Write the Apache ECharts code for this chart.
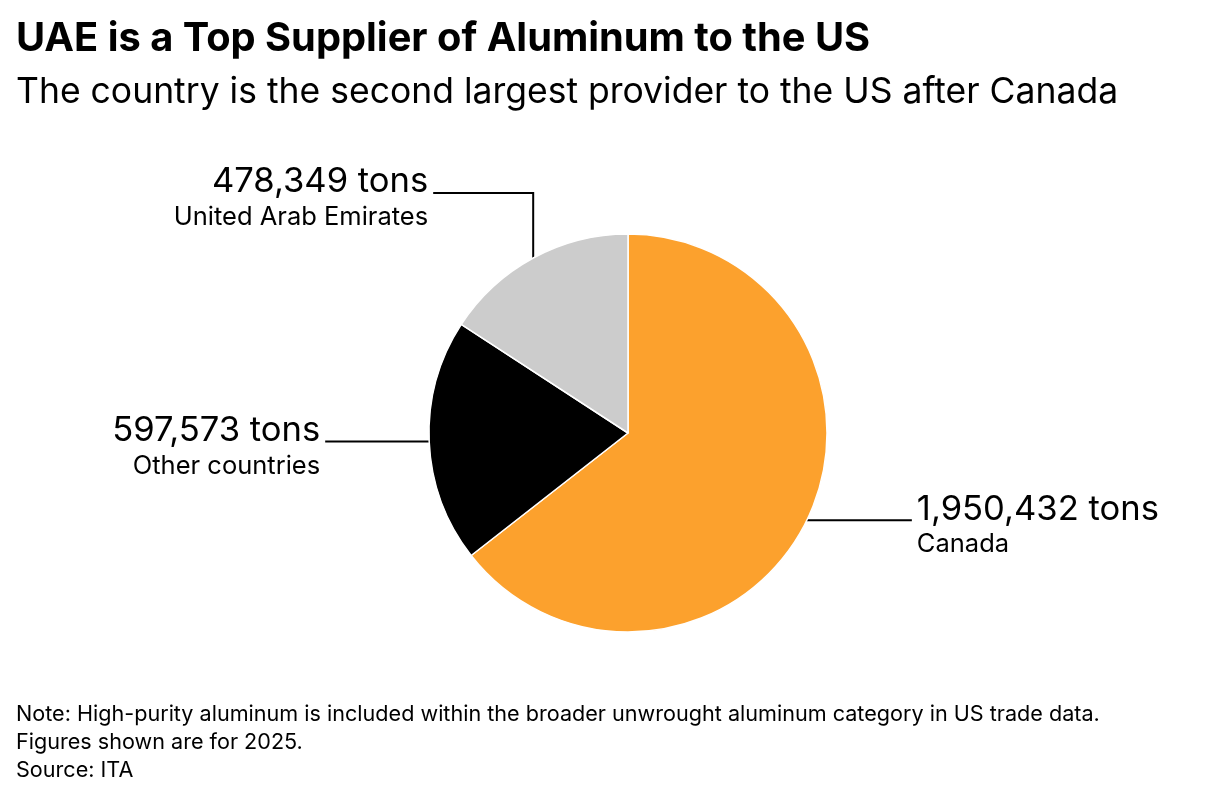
<!DOCTYPE html>
<html>
<head>
<meta charset="utf-8">
<script src="https://cdn.jsdelivr.net/npm/echarts@6/dist/echarts.min.js"></script>
<style>
  html, body { margin: 0; padding: 0; background: #fff; }
  #chart { width: 1218px; height: 804px; }
</style>
</head>
<body>
<div id="chart"></div>
<script>
// 数据
var countries = ['Canada', 'Other countries', 'United Arab Emirates'];
var tons = [1950432, 597573, 478349];
var colors = ['#FCA12D', '#000000', '#CCCCCC'];

var titleText = 'UAE is a Top Supplier of Aluminum to the US';
var subText = 'The country is the second largest provider to the US after Canada';
var noteLines = [
    'Note: High-purity aluminum is included within the broader unwrought aluminum category in US trade data.',
    'Figures shown are for 2025.',
    'Source: ITA'
];

var FONT = 'Inter, "Liberation Sans", Arial, sans-serif';

function fmt(v) {
    return v.toLocaleString('en-US') + ' tons';
}

var pieData = [];
for (var i = 0; i < countries.length; i++) {
    pieData.push({ name: countries[i], value: tons[i], itemStyle: { color: colors[i] } });
}

// 标签引线: 从扇区中点出发, 水平/折线到标签
function labelLayout(params) {
    var p0 = params.labelLinePoints[0].slice();
    var i = params.dataIndex;
    var lineY, end, pts, x, align;
    if (i === 0) {
        end = [p0[0] + 105, p0[1]];
        pts = [p0, end];
        x = end[0] + 5; align = 'left'; lineY = p0[1];
    } else if (i === 1) {
        end = [p0[0] - 104, p0[1]];
        pts = [p0, end];
        x = end[0] - 5; align = 'right'; lineY = p0[1];
    } else {
        var mid = [p0[0], p0[1] - 65];
        end = [mid[0] - 100, mid[1]];
        pts = [p0, mid, end];
        x = end[0] - 5; align = 'right'; lineY = mid[1];
    }
    return {
        x: x,
        y: lineY - 29,
        align: align,
        verticalAlign: 'top',
        labelLinePoints: pts
    };
}

var option = {
    backgroundColor: '#fff',
    animation: false,
    title: [
        {
            text: titleText,
            left: 11, top: 12,
            textStyle: { fontFamily: FONT, fontSize: 39.8, fontWeight: 'bold', color: '#000', lineHeight: 44 }
        },
        {
            text: subText,
            left: 11, top: 67,
            textStyle: { fontFamily: FONT, fontSize: 35.5, fontWeight: 'normal', color: '#000', lineHeight: 40 }
        },
        {
            text: noteLines.join('\n'),
            left: 11, top: 695,
            textStyle: { fontFamily: FONT, fontSize: 21.6, fontWeight: 'normal', color: '#000', lineHeight: 28 }
        }
    ],
    series: [
        {
            type: 'pie',
            center: [628, 433],
            radius: 199,
            startAngle: 90,
            clockwise: true,
            avoidLabelOverlap: false,
            emphasis: { disabled: true },
            itemStyle: { borderColor: '#fff', borderWidth: 1.5 },
            label: {
                show: true,
                position: 'outside',
                fontFamily: FONT,
                color: '#000',
                formatter: function (p) {
                    return '{v|' + fmt(p.value) + '}\n{n|' + p.name + '}';
                },
                rich: {
                    v: { fontFamily: FONT, fontSize: 34.6, lineHeight: 36, color: '#000' },
                    n: { fontFamily: FONT, fontSize: 25.5, lineHeight: 35, color: '#000' }
                }
            },
            labelLine: {
                show: true,
                length: 10,
                length2: 10,
                lineStyle: { color: '#000', width: 2 }
            },
            labelLayout: labelLayout,
            data: pieData
        }
    ]
};

var myChart = echarts.init(document.getElementById('chart'));
myChart.setOption(option);
</script>
</body>
</html>
